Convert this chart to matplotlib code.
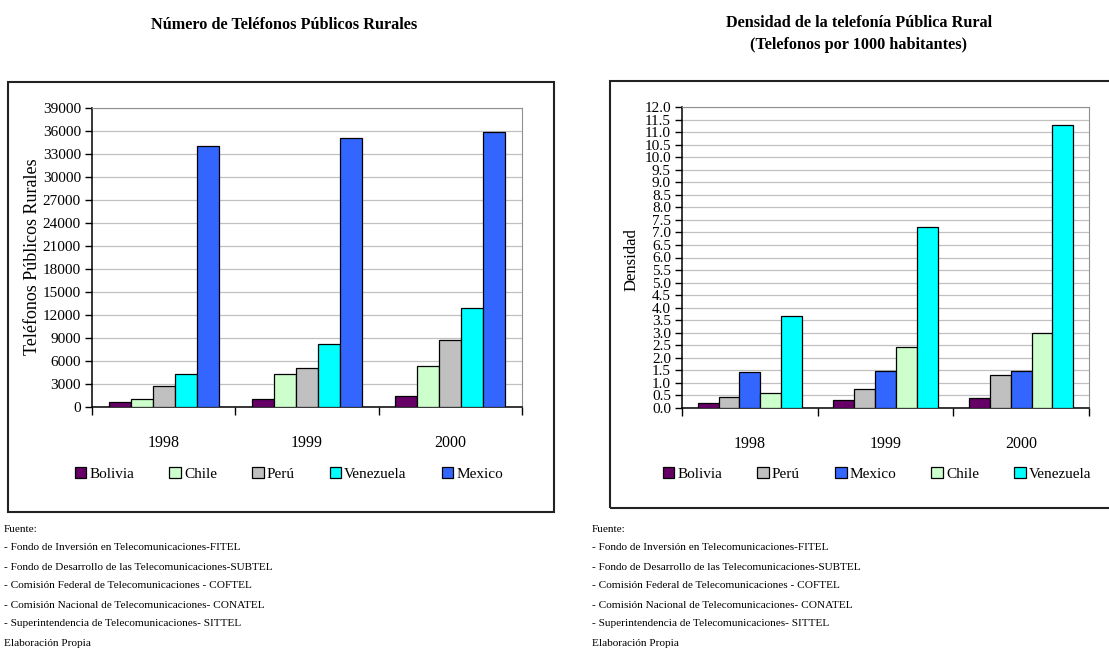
import numpy as np
import matplotlib.pyplot as plt
from matplotlib.patches import Rectangle

plt.rcParams['font.family'] = ['Liberation Serif', 'DejaVu Serif']

# data
years = ['1998', '1999', '2000']

# left chart: number of rural public phones
tel_bolivia = [700, 1090, 1450]
tel_chile = [1000, 4300, 5300]
tel_peru = [2700, 5050, 8700]
tel_venezuela = [4250, 8200, 12900]
tel_mexico = [34050, 35150, 35850]

# right chart: density (phones per 1000 inhabitants)
den_bolivia = [0.21, 0.31, 0.41]
den_peru = [0.42, 0.77, 1.32]
den_mexico = [1.42, 1.46, 1.48]
den_chile = [0.58, 2.42, 3.0]
den_venezuela = [3.68, 7.2, 11.27]

fuente = ['Fuente:',
          '- Fondo de Inversión en Telecomunicaciones-FITEL',
          '- Fondo de Desarrollo de las Telecomunicaciones-SUBTEL',
          '- Comisión Federal de Telecomunicaciones - COFTEL',
          '- Comisión Nacional de Telecomunicaciones- CONATEL',
          '- Superintendencia de Telecomunicaciones- SITTEL',
          'Elaboración Propia']

col = {'Bolivia': '#660066', 'Chile': '#CCFFCC', 'Perú': '#C0C0C0',
       'Venezuela': '#00FFFF', 'Mexico': '#3366FF'}

W, H = 1109, 652
fig = plt.figure(figsize=(W / 100, H / 100), dpi=100)


def px_axes(x0, y0, x1, y1):
    return fig.add_axes([x0 / W, 1 - y1 / H, (x1 - x0) / W, (y1 - y0) / H])


def frame(x0, y0, x1, y1):
    fig.patches.append(Rectangle((x0 / W, 1 - y1 / H), (x1 - x0) / W, (y1 - y0) / H,
                                 transform=fig.transFigure, fill=False,
                                 edgecolor='#222222', lw=1.5, clip_on=False))


def bar_chart(ax, series, ymax, step, fmt):
    n = len(series)
    w = 1 / (n + 1.5)
    x = np.arange(len(years))
    start = 0.75 * w
    for i, (name, vals) in enumerate(series):
        ax.bar(x + start + i * w, vals, width=w, align='edge', color=col[name],
               edgecolor='black', lw=0.9, label=name, zorder=3)
    ax.set_xlim(0, len(years))
    ax.set_ylim(0, ymax)
    ax.set_yticks(np.arange(0, ymax + step / 2, step))
    ax.yaxis.set_major_formatter(plt.FormatStrFormatter(fmt))
    ax.grid(axis='y', color='#c0c0c0', lw=0.9, zorder=0)
    ax.set_xticks(x + 0.5)
    ax.set_xticklabels(years)
    ax.set_xticks(np.arange(len(years) + 1), minor=True)
    ax.tick_params(axis='x', which='major', length=0, pad=20, labelsize=11.5)
    ax.tick_params(axis='x', which='minor', length=6, width=1, direction='out')
    ax.tick_params(axis='y', length=5, width=1, pad=3, labelsize=11)
    for s in ['top', 'right']:
        ax.spines[s].set_color('#909090')
    for s in ['left', 'bottom']:
        ax.spines[s].set_color('black')
        ax.spines[s].set_linewidth(1.1)


# ---- left chart
frame(8, 82, 554, 512)
ax1 = px_axes(92, 108, 522, 407)
bar_chart(ax1, [('Bolivia', tel_bolivia), ('Chile', tel_chile), ('Perú', tel_peru),
                ('Venezuela', tel_venezuela), ('Mexico', tel_mexico)],
          39000, 3000, '%d')
fig.text(33 / W, 1 - 257 / H, 'Teléfonos Públicos Rurales', rotation=90,
         ha='center', va='center', fontsize=13)
fig.text(284 / W, 1 - 25 / H, 'Número de Teléfonos Públicos Rurales',
         ha='center', va='center', fontsize=11.7, fontweight='bold')
fig.legend(*ax1.get_legend_handles_labels(), loc='center', ncol=5,
           bbox_to_anchor=(289 / W, 1 - 474 / H), frameon=False, fontsize=11,
           handlelength=0.75, handleheight=0.75, handletextpad=0.2,
           columnspacing=2.3, borderaxespad=0)

# ---- right chart
frame(610, 81, 1120, 508)
ax2 = px_axes(682, 107, 1089, 408)
bar_chart(ax2, [('Bolivia', den_bolivia), ('Perú', den_peru), ('Mexico', den_mexico),
                ('Chile', den_chile), ('Venezuela', den_venezuela)],
          12, 0.5, '%.1f')
fig.text(632 / W, 1 - 260 / H, 'Densidad', rotation=90,
         ha='center', va='center', fontsize=12)
fig.text(859 / W, 1 - 23 / H, 'Densidad de la telefonía Pública Rural',
         ha='center', va='center', fontsize=11.7, fontweight='bold')
fig.text(859 / W, 1 - 45 / H, '(Telefonos por 1000 habitantes)',
         ha='center', va='center', fontsize=11.7, fontweight='bold')
fig.legend(*ax2.get_legend_handles_labels(), loc='center', ncol=5,
           bbox_to_anchor=(877 / W, 1 - 474 / H), frameon=False, fontsize=11,
           handlelength=0.75, handleheight=0.75, handletextpad=0.2,
           columnspacing=2.3, borderaxespad=0)

# ---- source notes
for x0 in (4, 592):
    for i, line in enumerate(fuente):
        fig.text(x0 / W, 1 - (529 + i * 19) / H, line, ha='left', va='center',
                 fontsize=8.1)

fig.savefig('out.png', dpi=100)
